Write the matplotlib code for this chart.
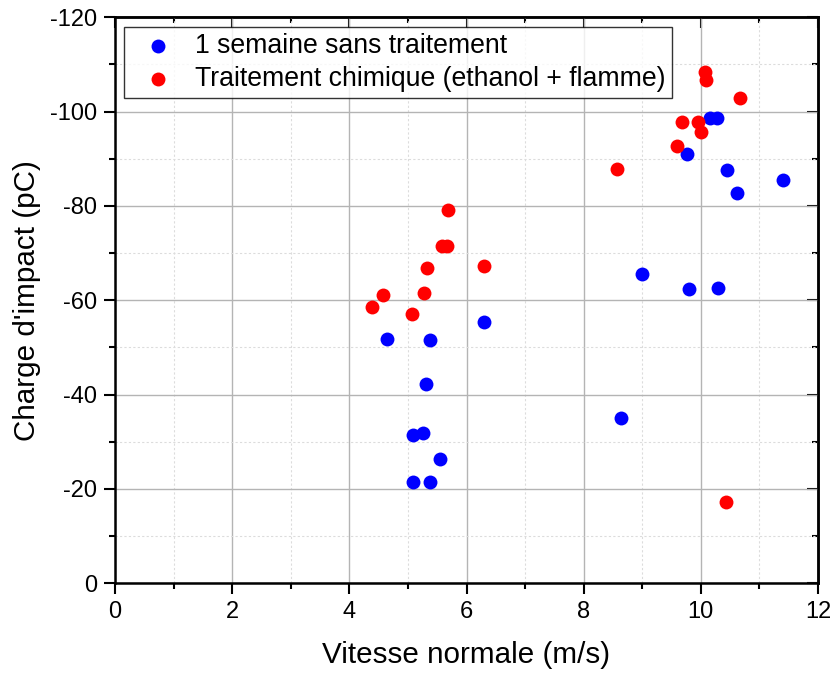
import numpy as np
import matplotlib
matplotlib.use('Agg')
import matplotlib.pyplot as plt
from matplotlib.ticker import MultipleLocator

plt.rcParams['font.family'] = ['Liberation Sans', 'DejaVu Sans']

# 1 semaine sans traitement
x_blue = [4.64, 5.37, 5.31, 5.09, 5.25, 5.54, 5.09, 5.37, 6.30, 8.63,
          8.99, 9.76, 9.79, 10.30, 10.16, 10.28, 10.44, 10.62, 11.40]
y_blue = [-51.7, -51.6, -42.3, -31.4, -31.9, -26.3, -21.5, -21.4, -55.4, -35.0,
          -65.5, -91.0, -62.4, -62.7, -98.7, -98.7, -87.6, -82.7, -85.5]

# Traitement chimique (ethanol + flamme)
x_red = [4.39, 4.57, 5.07, 5.28, 5.32, 5.58, 5.67, 5.69, 6.30, 8.57,
         9.59, 9.68, 9.95, 10.00, 10.07, 10.08, 10.66, 10.43]
y_red = [-58.6, -61.2, -57.0, -61.5, -66.9, -71.5, -71.6, -79.1, -67.2, -87.8,
         -92.8, -97.9, -97.7, -95.7, -108.3, -106.8, -102.8, -17.2]

labels = ['1 semaine sans traitement', 'Traitement chimique (ethanol + flamme)']

fig = plt.figure(figsize=(8.32, 6.73), dpi=100)
ax = fig.add_axes([0.1382, 0.1333, 0.845, 0.8410])

ax.scatter(x_blue, y_blue, s=100, c='#0000ff', label=labels[0], zorder=3, linewidths=0)
ax.scatter(x_red, y_red, s=100, c='#ff0000', label=labels[1], zorder=3, linewidths=0)

# axes and ticks
ax.set_xlim(0, 12)
ax.set_ylim(0, -120)
ax.xaxis.set_major_locator(MultipleLocator(2))
ax.xaxis.set_minor_locator(MultipleLocator(1))
ax.yaxis.set_major_locator(MultipleLocator(20))
ax.yaxis.set_minor_locator(MultipleLocator(10))
ax.tick_params(which='both', direction='out', width=1.5, labelsize=17,
               top=False, right=False)
ax.tick_params(which='major', length=8, pad=5)
ax.tick_params(which='minor', length=4)
ax.yaxis.set_major_formatter(matplotlib.ticker.FuncFormatter(lambda v, p: '%d' % v))

# inward ticks on top/right
sec_x = ax.secondary_xaxis('top')
sec_x.xaxis.set_major_locator(MultipleLocator(2))
sec_x.xaxis.set_minor_locator(MultipleLocator(1))
sec_x.tick_params(which='both', direction='in', width=1.5, labeltop=False)
sec_x.tick_params(which='major', length=8)
sec_x.tick_params(which='minor', length=4)
sec_y = ax.secondary_yaxis('right')
sec_y.yaxis.set_major_locator(MultipleLocator(20))
sec_y.yaxis.set_minor_locator(MultipleLocator(10))
sec_y.tick_params(which='both', direction='in', width=1.5, labelright=False)
sec_y.tick_params(which='major', length=8)
sec_y.tick_params(which='minor', length=4)
for s in list(ax.spines.values()) + [sec_x.spines['top'], sec_y.spines['right']]:
    s.set_linewidth(1.8)

ax.grid(which='major', color='#b4b4b4', linewidth=1.0)
ax.grid(which='minor', color='#dcdcdc', linewidth=0.8, linestyle=(0, (2, 2)))
ax.set_axisbelow(True)

ax.set_xlabel('Vitesse normale (m/s)', fontsize=21.3, labelpad=13)
ax.set_ylabel("Charge d'impact (pC)", fontsize=21.3, labelpad=6)

leg = ax.legend(loc='upper left', fontsize=19.2, frameon=True, fancybox=False,
                edgecolor='black', borderaxespad=0.35, handletextpad=0.4,
                labelspacing=0.24, borderpad=0.25, scatterpoints=1)
leg.get_frame().set_linewidth(1.0)

fig.savefig('out.png', dpi=100)
